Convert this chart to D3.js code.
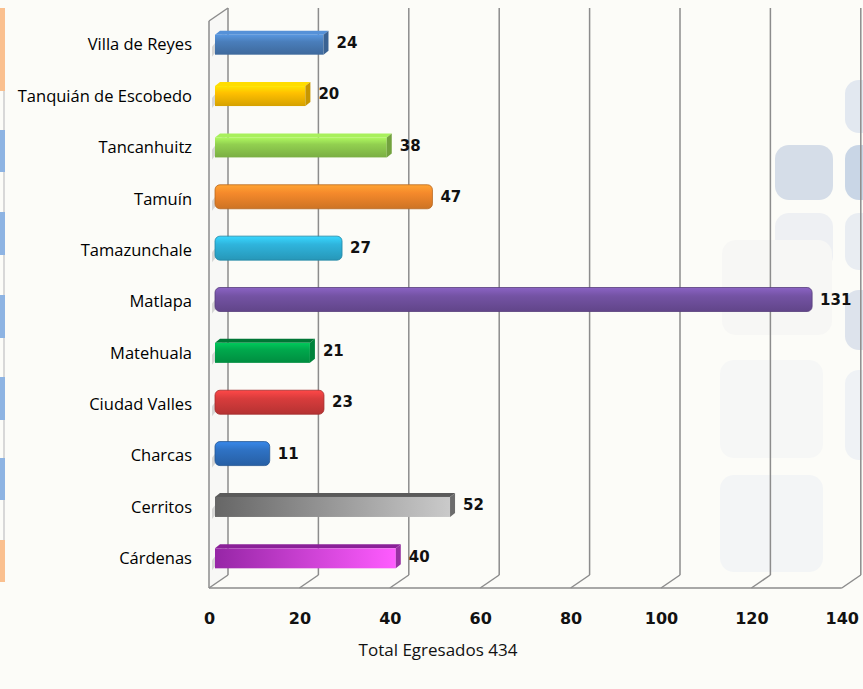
<!DOCTYPE html>
<meta charset="utf-8">
<title>Egresados por municipio</title>
<style>
html, body { margin: 0; padding: 0; overflow: hidden; background: #fcfcf8; }
.cat { font: 16.5px "Open Sans", sans-serif; fill: #000; text-anchor: end; }
.val { font: bold 15px "DejaVu Sans", sans-serif; fill: #111; }
.tick text { font: bold 16px "DejaVu Sans", sans-serif; fill: #111; }
.total { font: 17px "Open Sans", sans-serif; fill: #111; text-anchor: middle; }
</style>
<svg width="863" height="689"></svg>
<script src="https://d3js.org/d3.v7.min.js"></script>
<script>

// data
var categories = ["Villa de Reyes", "Tanquián de Escobedo", "Tancanhuitz", "Tamuín", "Tamazunchale",
                  "Matlapa", "Matehuala", "Ciudad Valles", "Charcas", "Cerritos", "Cárdenas"];
var values = [24, 20, 38, 47, 27, 131, 21, 23, 11, 52, 40];
var barColors = ["#4a7ebb", "#ffc000", "#92d050", "#f5892b", "#2fb4dc",
                 "#7453a4", "#00a84c", "#d83c3c", "#2f72c4", "#8a8a8a", "#c23fd0"];
var barShapes = ["box", "box", "box", "round", "round", "round", "box", "round", "round", "box", "box"];
var xTicks = [0, 20, 40, 60, 80, 100, 120, 140];
var totalLabel = "Total Egresados 434";

var svg = d3.select("svg"),
    defs = svg.append("defs");

var frontX = 209, backX = 228, floorY = 588, backFloorY = 575, topY = 8,
    depthX = backX - frontX, depthY = floorY - backFloorY,
    barX = 215;

var x = d3.scaleLinear().domain([0, 140]).range([0, 632.8]);
var y = d3.scaleBand().domain(categories).range([17, 582]);

// background decoration (rounded squares on the right)
var deco = svg.append("g");
var squares = [
  [845, 80, 40, 53, "#e2e8f0"], [775, 145, 58, 55, "#d5dde8"], [845, 145, 40, 55, "#c9d6e6"],
  [775, 213, 58, 57, "#eef0f3"], [845, 213, 40, 57, "#e9edf2"], [722, 240, 110, 95, "#f7f7f5"],
  [845, 290, 40, 60, "#dde3ec"], [720, 360, 103, 98, "#f6f7f6"], [720, 475, 103, 97, "#f3f5f6"],
  [845, 370, 40, 90, "#eff2f5"]
];
deco.selectAll("rect").data(squares).enter().append("rect")
    .attr("x", function(d) { return d[0]; })
    .attr("y", function(d) { return d[1]; })
    .attr("width", function(d) { return d[2]; })
    .attr("height", function(d) { return d[3]; })
    .attr("rx", 14)
    .style("fill", function(d) { return d[4]; });

// left strip
var strip = [[8, 91, "#fac08f"], [130, 172, "#8eb4e3"], [212, 255, "#8eb4e3"], [295, 338, "#8eb4e3"],
             [377, 420, "#8eb4e3"], [458, 500, "#8eb4e3"], [540, 582, "#fac08f"]];
svg.append("rect").attr("x", 3).attr("y", 91).attr("width", 2).attr("height", 449).style("fill", "#d8d8d8");
svg.selectAll(".strip").data(strip).enter().append("rect")
    .attr("class", "strip")
    .attr("x", 0).attr("width", 5)
    .attr("y", function(d) { return d[0]; })
    .attr("height", function(d) { return d[1] - d[0]; })
    .style("fill", function(d) { return d[2]; });

// 3d frame: left wall, floor, back grid
svg.append("path")
    .attr("d", "M" + frontX + "," + (topY + depthY) + " L" + backX + "," + topY + " L" + backX + "," + backFloorY +
               " L" + frontX + "," + floorY + " Z")
    .style("fill", "#f8f8f6");

var frame = svg.append("g").style("fill", "none").style("stroke", "#8c8c8c").style("stroke-width", 1.5);

frame.selectAll(".grid").data(xTicks).enter().append("line")
    .attr("x1", function(d) { return backX + x(d); })
    .attr("x2", function(d) { return backX + x(d); })
    .attr("y1", topY).attr("y2", backFloorY);

frame.selectAll(".diag").data(xTicks).enter().append("line")
    .attr("x1", function(d) { return frontX + x(d); })
    .attr("y1", floorY)
    .attr("x2", function(d) { return backX + x(d); })
    .attr("y2", backFloorY);

frame.append("line").attr("x1", frontX).attr("x2", frontX + x(140)).attr("y1", floorY).attr("y2", floorY);
frame.append("line").attr("x1", frontX).attr("x2", frontX).attr("y1", topY + depthY).attr("y2", floorY);
frame.append("line").attr("x1", frontX).attr("y1", topY + depthY).attr("x2", backX).attr("y2", topY);

// bar shadows on the left wall
svg.append("g").selectAll("path").data(categories).enter().append("path")
    .attr("d", function(d) {
      var c = y(d) + y.bandwidth() / 2;
      return "M" + (frontX + 3) + "," + (c + 14) + " L" + (backX - 3) + "," + (c - 2) +
             " L" + (backX - 3) + "," + (c - 12) + " L" + (frontX + 3) + "," + (c + 4) + " Z";
    })
    .style("fill", "#c8c8c8").style("opacity", 0.7);

// gradients for the bars
categories.forEach(function(c, i) {
  var col = d3.color(barColors[i]);
  var g;
  if (i >= 9) {
    g = defs.append("linearGradient").attr("id", "bar" + i);
    var dark = i == 9 ? "#666666" : "#9626a6", light = i == 9 ? "#cacaca" : "#ff5cff";
    g.append("stop").attr("offset", "0%").attr("stop-color", dark);
    g.append("stop").attr("offset", "100%").attr("stop-color", light);
  } else {
    g = defs.append("linearGradient").attr("id", "bar" + i).attr("x1", 0).attr("x2", 0).attr("y1", 0).attr("y2", 1);
    g.append("stop").attr("offset", "0%").attr("stop-color", col.brighter(0.5));
    g.append("stop").attr("offset", "35%").attr("stop-color", col);
    g.append("stop").attr("offset", "100%").attr("stop-color", col.darker(0.5));
  }
});

var bh = 20, dx = 5, dz = 4;

var bars = svg.append("g").selectAll("g").data(categories).enter().append("g");

bars.each(function(d, i) {
  var gEl = d3.select(this),
      c = y(d) + y.bandwidth() / 2,
      x1 = barX + x(values[i]),
      top = c - bh / 2 + 2,
      col = d3.color(barColors[i]);
  if (barShapes[i] == "round") {
    gEl.append("rect")
        .attr("x", barX).attr("y", top - dz)
        .attr("width", x1 - barX + dx).attr("height", bh + dz)
        .attr("rx", 5)
        .style("fill", "url(#bar" + i + ")")
        .style("stroke", col.darker(0.8)).style("stroke-width", 0.8);
  } else {
    var topCol = i == 6 ? col.darker(1) : i == 9 ? d3.color("#5a5a5a") : i == 10 ? d3.color("#8a2098") : col.brighter(0.4);
    gEl.append("path")
        .attr("d", "M" + barX + "," + top + " L" + (barX + dx) + "," + (top - dz) + " L" + (x1 + dx) + "," + (top - dz) +
                   " L" + x1 + "," + top + " Z")
        .style("fill", topCol);
    gEl.append("rect")
        .attr("x", barX).attr("y", top)
        .attr("width", x1 - barX).attr("height", bh)
        .style("fill", "url(#bar" + i + ")");
    gEl.append("path")
        .attr("d", "M" + x1 + "," + top + " L" + (x1 + dx) + "," + (top - dz) + " L" + (x1 + dx) + "," + (top + bh - dz) +
                   " L" + x1 + "," + (top + bh) + " Z")
        .style("fill", col.darker(0.7));
  }
  gEl.append("text")
      .attr("class", "val")
      .attr("x", x1 + dx + 8)
      .attr("y", c)
      .attr("dy", "0.35em")
      .text(values[i]);
});

// category labels
svg.append("g").selectAll("text").data(categories).enter().append("text")
    .attr("class", "cat")
    .attr("x", 192)
    .attr("y", function(d) { return y(d) + y.bandwidth() / 2 + 2; })
    .attr("dy", "0.35em")
    .text(function(d) { return d; });

// x axis labels
var axis = svg.append("g")
    .attr("transform", "translate(" + frontX + "," + 613 + ")")
    .call(d3.axisBottom(x).tickValues(xTicks).tickSize(0).tickPadding(0));
axis.select(".domain").remove();

svg.append("text")
    .attr("class", "total")
    .attr("x", 438).attr("y", 656)
    .text(totalLabel);

</script>
